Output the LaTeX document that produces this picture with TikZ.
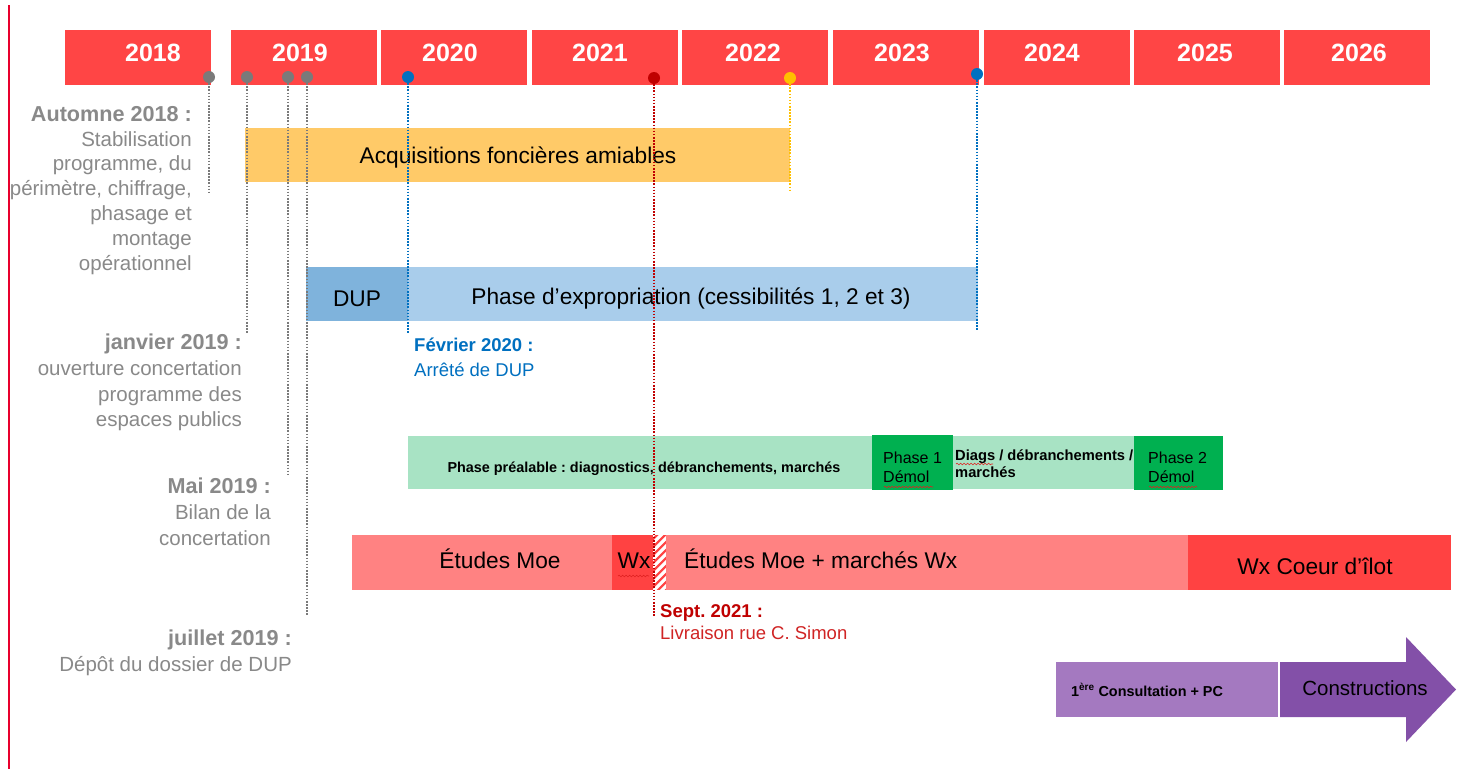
\documentclass[tikz,border=0pt]{standalone}
\usepackage{fontspec}
\setmainfont{Liberation Sans}
\frenchspacing
\usetikzlibrary{decorations.pathmorphing}
\definecolor{yearred}{HTML}{FF4545}
\definecolor{sidebar}{HTML}{E8002D}
\definecolor{acq}{HTML}{FFCA68}
\definecolor{dupblue}{HTML}{7FB3DC}
\definecolor{expblue}{HTML}{A9CDEB}
\definecolor{lgreen}{HTML}{A8E3C4}
\definecolor{dgreen}{HTML}{00B050}
\definecolor{lred}{HTML}{FF8282}
\definecolor{wxred}{HTML}{FF4242}
\definecolor{lpurple}{HTML}{A479C0}
\definecolor{dpurple}{HTML}{8350A8}
\definecolor{lblgray}{HTML}{898989}
\definecolor{dotgray}{HTML}{7A7A7A}
\definecolor{fblue}{HTML}{0070C0}
\definecolor{sred}{HTML}{C00000}
\definecolor{lred2}{HTML}{D02424}
\definecolor{ygold}{HTML}{FFC000}
\definecolor{spell}{HTML}{E02020}
\tikzset{
  box/.style={draw=none, inner sep=0pt, anchor=north west},
  yearbox/.style={box, fill=yearred, minimum width=146pt, minimum height=55pt},
  yeartxt/.style={anchor=base, inner sep=0pt, text=white, font=\fontsize{25}{30}\selectfont\bfseries},
  bartxt/.style={anchor=base, inner sep=0pt, text=black, font=\fontsize{22.7}{27}\selectfont},
  smallbold/.style={anchor=base west, inner sep=0pt, text=black, font=\fontsize{14.7}{17}\selectfont\bfseries},
  demtxt/.style={anchor=base west, inner sep=0pt, text=black, font=\fontsize{16}{19}\selectfont},
  lbl/.style={anchor=north east, inner sep=0pt, align=right, text=lblgray},
  lblhead/.style={font=\fontsize{21.6}{25}\selectfont\bfseries},
  mdot/.style={circle, inner sep=0pt, minimum size=12pt},
  dline/.style={line width=2.2pt, dash pattern=on 1.6pt off 1.5pt},
  squig/.style={spell, line width=0.6pt, decorate, decoration={snake, amplitude=0.8pt, segment length=3.5pt}}
}
\begin{document}
\begin{tikzpicture}[x=1pt,y=-1pt]
\useasboundingbox[fill=white] (0,0) rectangle (1459,769);

% left red rule
\draw[sidebar, line width=2pt] (9,5) -- (9,769);

% year header
\node[yearbox] (b2018) at (65,30) {};
\node[yearbox] (b2019) at (231,30) {};
\node[yearbox] (b2020) at (381,30) {};
\node[yearbox] (b2021) at (532,30) {};
\node[yearbox] (b2022) at (682,30) {};
\node[yearbox] (b2023) at (833,30) {};
\node[yearbox] (b2024) at (984,30) {};
\node[yearbox] (b2025) at (1134,30) {};
\node[yearbox] (b2026) at (1284,30) {};
\node[yeartxt] (t2018) at (153,61.5) {2018};
\node[yeartxt] (t2019) at (300,61.5) {2019};
\node[yeartxt] (t2020) at (450,61.5) {2020};
\node[yeartxt] (t2021) at (600,61.5) {2021};
\node[yeartxt] (t2022) at (753,61.5) {2022};
\node[yeartxt] (t2023) at (902,61.5) {2023};
\node[yeartxt] (t2024) at (1052,61.5) {2024};
\node[yeartxt] (t2025) at (1205,61.5) {2025};
\node[yeartxt] (t2026) at (1359,61.5) {2026};

% bars
\node[box, fill=acq, minimum width=545pt, minimum height=54pt] (acq) at (245,128) {};
\node[bartxt] (acqt) at (518,163) {Acquisitions foncières amiables};

\node[box, fill=dupblue, minimum width=102pt, minimum height=54pt] (dup) at (306,267) {};
\node[box, fill=expblue, minimum width=570pt, minimum height=54pt] (exp) at (408,267) {};
\node[bartxt] (dupt) at (357,306.5) {DUP};
\node[bartxt] (expt) at (691,304.5) {Phase d’expropriation (cessibilités 1, 2 et 3)};

\node[box, fill=lgreen, minimum width=464pt, minimum height=53pt] (pre) at (408,436) {};
\node[box, fill=dgreen, minimum width=81pt, minimum height=55pt] (ph1) at (872,435) {};
\node[box, fill=lgreen, minimum width=181pt, minimum height=53pt] (diag) at (953,436) {};
\node[box, fill=dgreen, minimum width=89pt, minimum height=54pt] (ph2) at (1134,436) {};
\node[anchor=base, inner sep=0pt, font=\fontsize{14.4}{17}\selectfont\bfseries] (pret) at (644,472.5) {Phase préalable : diagnostics, débranchements, marchés};
\node[demtxt] (ph1a) at (883,463) {Phase 1};
\node[demtxt] (ph1b) at (883,482) {Démol};
\node[smallbold] (diaga) at (955,460.5) {Diags / débranchements /};
\node[smallbold] (diagb) at (955,477.5) {marchés};
\node[demtxt] (ph2a) at (1148,463) {Phase 2};
\node[demtxt] (ph2b) at (1148,482) {Démol};

\node[box, fill=lred, minimum width=260pt, minimum height=55pt] (moe) at (352,535) {};
\node[box, fill=wxred, minimum width=41pt, minimum height=55pt] (wx) at (612,535) {};
\node[box, fill=wxred, minimum width=13pt, minimum height=55pt] (hatch) at (653,535) {};
\begin{scope}
  \clip (653,535) rectangle (666,590);
  \foreach \k in {0,...,12} \draw[white, line width=3.2pt] (640,540+\k*8) -- (680,500+\k*8);
\end{scope}
\node[box, fill=lred, minimum width=522pt, minimum height=55pt] (moe2) at (666,535) {};
\node[box, fill=wxred, minimum width=263pt, minimum height=55pt] (coeur) at (1188,535) {};
\node[bartxt] (moet) at (500,568.5) {Études Moe};
\node[bartxt] (wxt) at (634,568.5) {Wx};
\node[bartxt, anchor=base west] (moe2t) at (684,568.5) {Études Moe + marchés Wx};
\node[bartxt] (coeurt) at (1315,574) {Wx Coeur d’îlot};

\node[box, fill=lpurple, minimum width=222pt, minimum height=55pt] (consult) at (1056,662) {};
\fill[dpurple] (1280,662) -- (1406,662) -- (1406,637) -- (1456,689.5) -- (1406,742) -- (1406,717) -- (1280,717) -- cycle;
\node[anchor=base, inner sep=0pt, font=\fontsize{14.4}{17}\selectfont\bfseries] (consultt) at (1147,696) {1\textsuperscript{ère} Consultation + PC};
\node[anchor=base, inner sep=0pt, font=\fontsize{20.5}{25}\selectfont] (const) at (1365,695) {Constructions};

% spell-check squiggles
\draw[squig] (884,487) -- (933,487);
\draw[squig] (1149,487) -- (1197,487);
\draw[squig] (956,464) -- (993,464);
\draw[squig] (618,576) -- (649,576);

% milestone dots
\node[mdot, fill=dotgray] (m1) at (209,77) {};
\node[mdot, fill=dotgray] (m2) at (247,77) {};
\node[mdot, fill=dotgray] (m3) at (288,77) {};
\node[mdot, fill=dotgray] (m4) at (307,77) {};
\node[mdot, fill=fblue] (m5) at (408,77) {};
\node[mdot, fill=sred] (m6) at (654,78) {};
\node[mdot, fill=ygold] (m7) at (790,78) {};
\node[mdot, fill=fblue] (m8) at (977,74) {};

\coordinate (e1) at (209,192);
\coordinate (e2) at (247,333);
\coordinate (e3) at (288,475);
\coordinate (e4) at (307,615);
\coordinate (e5) at (408,334);
\coordinate (e6) at (654,617);
\coordinate (e7) at (790,192);
\coordinate (e8) at (977,330);
\draw[dline, dotgray] (m1.south) -- (e1);
\draw[dline, dotgray] (m2.south) -- (e2);
\draw[dline, dotgray] (m3.south) -- (e3);
\draw[dline, dotgray] (m4.south) -- (e4);
\draw[dline, fblue] (m5.south) -- (e5);
\draw[dline, sred] (m6.south) -- (e6);
\draw[dline, ygold] (m7.south) -- (e7);
\draw[dline, fblue] (m8.south) -- (e8);

% labels
\node[lbl, font=\fontsize{20.5}{24.8}\selectfont] (lA) at (192,106) {{\fontsize{21.6}{24.8}\selectfont\bfseries Automne 2018 :}\\Stabilisation\\programme, du\\périmètre, chiffrage,\\phasage et\\montage\\opérationnel\hspace{5pt}};
\node[lbl, font=\fontsize{20.5}{25.6}\selectfont] (lJ) at (242,334) {{\fontsize{21.6}{25.6}\selectfont\bfseries janvier 2019 :}\\ouverture concertation\\programme des\\espaces publics\hspace{5pt}};
\node[lbl, font=\fontsize{20.5}{26}\selectfont] (lM) at (271,478) {{\fontsize{21.6}{26}\selectfont\bfseries Mai 2019 :}\\Bilan de la\\concertation\hspace{5pt}};
\node[lbl, font=\fontsize{20.5}{26}\selectfont] (lJu) at (292,630) {{\fontsize{21.6}{26}\selectfont\bfseries juillet 2019 :}\\Dépôt du dossier de DUP\hspace{5pt}};
\node[anchor=north west, inner sep=0pt, align=left, text=fblue, font=\fontsize{18.5}{25.5}\selectfont] (lF) at (414,337.5) {\textbf{Février 2020 :}\\Arrêté de DUP};
\node[anchor=north west, inner sep=0pt, align=left, font=\fontsize{18.5}{22}\selectfont] (lS) at (660,604) {\textcolor{sred}{\textbf{Sept. 2021 :}}\\\textcolor{lred2}{Livraison rue C. Simon}};
\end{tikzpicture}
\end{document}
